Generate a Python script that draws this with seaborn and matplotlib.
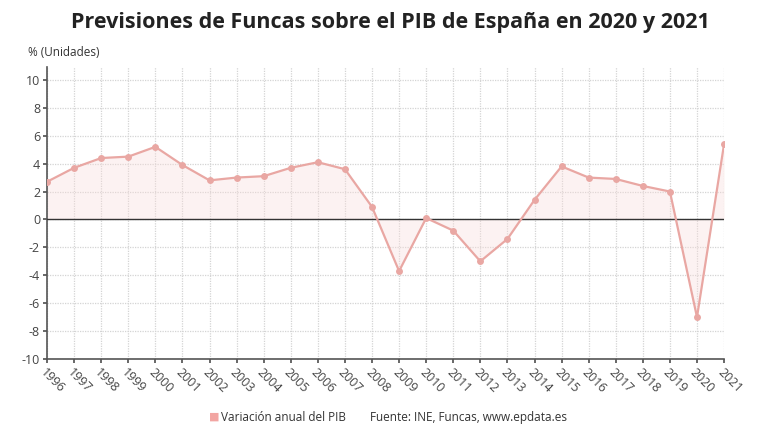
import matplotlib
matplotlib.use("Agg")
import matplotlib.pyplot as plt
import seaborn as sns
import pandas as pd
import numpy as np

years = list(range(1996, 2022))
values = [2.7, 3.7, 4.4, 4.5, 5.2, 3.9, 2.8, 3.0, 3.1, 3.7, 4.1, 3.6, 0.9,
          -3.7, 0.1, -0.8, -3.0, -1.4, 1.4, 3.8, 3.0, 2.9, 2.4, 2.0, -7.0, 5.4]
yticks = list(range(-10, 11, 2))

sns.set_theme(style="white")
plt.rcParams['font.family'] = ['Open Sans', 'DejaVu Sans']

df = pd.DataFrame({"year": years, "value": values})
line_color = "#e9a7a3"

fig = plt.figure(figsize=(7.8, 4.4), dpi=100)
ax = fig.add_axes([0.0603, 0.184, 0.868, 0.664])

ax.fill_between(df["year"], df["value"], 0, color="#f9dcda", alpha=0.35, lw=0)
sns.lineplot(data=df, x="year", y="value", ax=ax, color=line_color, lw=1.6,
             marker="o", markersize=5, markeredgewidth=0, zorder=4)
ax.axhline(0, color="#333333", lw=1.0, zorder=3)

ax.set_xlim(1996, 2021)
ax.set_ylim(-10, 10.93)
ax.set_yticks(yticks)
ax.set_xticks(years)
ax.set_xticklabels([str(y) for y in years], rotation=-45, ha="left", va="top",
                   rotation_mode="anchor", fontsize=9, color="#444444")
ax.set_yticklabels([str(t) for t in yticks], fontsize=9, color="#444444")
ax.set_xlabel("")
ax.set_ylabel("")

ax.grid(True, color="#d4d4d4", linestyle=(0, (1, 1)), lw=0.9)
for s in ["top", "right"]:
    ax.spines[s].set_visible(False)
for s in ["left", "bottom"]:
    ax.spines[s].set_color("#555555")
    ax.spines[s].set_linewidth(1.2)
ax.tick_params(axis="both", which="both", length=3, color="#555555", direction="out",
               bottom=True, left=True, pad=2)

fig.text(0.5, 0.948, "Previsiones de Funcas sobre el PIB de España en 2020 y 2021",
         ha="center", va="center", fontsize=15.5, fontweight="bold", color="#222222")
fig.text(0.036, 0.88, "% (Unidades)", ha="left", va="center", fontsize=8.5, color="#333333")

fig.text(0.268, 0.052, "■", ha="left", va="center", fontsize=8, color="#f2a5a2")
fig.text(0.283, 0.052, "Variación anual del PIB", ha="left", va="center", fontsize=8.5, color="#333333")
fig.text(0.475, 0.052, "Fuente: INE, Funcas, www.epdata.es", ha="left", va="center",
         fontsize=8.5, color="#333333")

fig.savefig("out.png", dpi=100, facecolor="white")
